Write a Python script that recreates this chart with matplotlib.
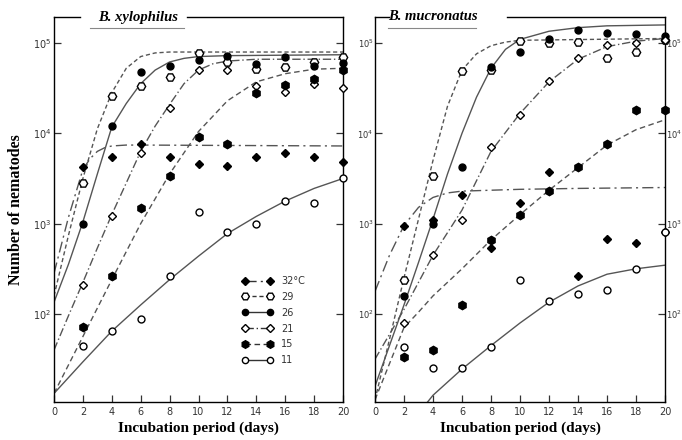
import numpy as np
import matplotlib
matplotlib.use("Agg")
import matplotlib.pyplot as plt
from matplotlib.lines import Line2D

# observation days
days = [2, 4, 6, 8, 10, 12, 14, 16, 18, 20]
temps = ["32°C", "29", "26", "21", "15", "11"]

# ---- B. xylophilus: observed numbers
xyl_32 = [4200, 5400, 7600, 5500, 4600, 4300, 5400, 6000, 5400, 4800]
xyl_29 = [2800, 26000, 33000, 42000, 78000, 62000, 52000, 54000, 62000, 70000]
xyl_26 = [1000, 12000, 48000, 56000, 65000, 72000, 59000, 70000, 56000, 60000]
xyl_21 = [210, 1200, 6000, 19000, 50000, 50000, 33000, 29000, 35000, 32000]
xyl_15 = [71, 260, 1500, 3400, 9100, 7600, 28000, 34000, 40000, 50000]
xyl_11 = [44, 64, 87, 260, 1350, 800, 1000, 1800, 1700, 3200]

# ---- B. xylophilus: fitted curves (log10 of number)
xyl_c32_x = [0, 1, 2, 2.5, 3, 3.5, 4, 5, 6, 20]
xyl_c32_y = [2.45, 3.07, 3.6, 3.72, 3.8, 3.84, 3.86, 3.87, 3.87, 3.86]
xyl_c29_x = [0, 1, 2, 3, 4, 5, 6, 7, 8, 10, 20]
xyl_c29_y = [2.2, 2.87, 3.5, 4.05, 4.45, 4.72, 4.85, 4.89, 4.9, 4.9, 4.9]
xyl_c26_x = [0, 1, 2, 3, 4, 5, 6, 7, 8, 9, 10, 12, 20]
xyl_c26_y = [2.13, 2.55, 3.02, 3.55, 4.07, 4.33, 4.55, 4.7, 4.79, 4.83, 4.85, 4.86, 4.87]
xyl_c21_x = [0, 1, 2, 3, 4, 5, 6, 7, 8, 9, 10, 11, 12, 14, 20]
xyl_c21_y = [1.6, 1.98, 2.35, 2.73, 3.1, 3.45, 3.8, 4.08, 4.32, 4.55, 4.7, 4.77, 4.8, 4.82, 4.82]
xyl_c15_x = [0, 2, 4, 6, 8, 10, 12, 14, 16, 18, 20]
xyl_c15_y = [1.12, 1.75, 2.38, 3.0, 3.55, 4.02, 4.36, 4.57, 4.66, 4.71, 4.72]
xyl_c11_x = [0, 2, 4, 6, 8, 10, 12, 14, 16, 18, 20]
xyl_c11_y = [1.12, 1.47, 1.81, 2.1, 2.38, 2.64, 2.89, 3.08, 3.25, 3.39, 3.5]

# ---- B. mucronatus: observed numbers
muc_32 = [950, 1100, 2100, 540, 1700, 3700, 260, 680, 610, 810]
muc_29 = [240, 3400, 49000, 50000, 106000, 100000, 103000, 68000, 80000, 108000]
muc_26 = [160, 1000, 4200, 54000, 80000, 110000, 140000, 130000, 126000, 120000]
muc_21 = [80, 450, 1100, 7100, 16000, 38000, 68000, 95000, 100000, 108000]
muc_15 = [33, 40, 125, 660, 1250, 2300, 4200, 7600, 18000, 18000]
muc_11 = [43, 25, 25, 43, 240, 140, 165, 185, 315, 800]

# ---- B. mucronatus: fitted curves (log10 of number)
muc_c32_x = [0, 1, 2, 3, 4, 5, 6, 8, 10, 14, 20]
muc_c32_y = [2.25, 2.65, 2.98, 3.18, 3.29, 3.34, 3.36, 3.37, 3.38, 3.39, 3.4]
muc_c29_x = [0, 1, 2, 3, 4, 5, 6, 7, 8, 9, 10, 20]
muc_c29_y = [1.05, 1.72, 2.4, 3.05, 3.7, 4.3, 4.7, 4.88, 4.97, 5.01, 5.03, 5.05]
muc_c26_x = [0, 1, 2, 3, 4, 5, 6, 7, 8, 9, 10, 12, 14, 16, 20]
muc_c26_y = [1.2, 1.65, 2.1, 2.57, 3.05, 3.55, 4.0, 4.4, 4.72, 4.93, 5.04, 5.13, 5.17, 5.19, 5.2]
muc_c21_x = [0, 2, 4, 6, 8, 10, 12, 14, 16, 18, 20]
muc_c21_y = [1.5, 2.05, 2.65, 3.15, 3.8, 4.22, 4.57, 4.82, 4.96, 5.02, 5.05]
muc_c15_x = [0, 1, 2, 3, 4, 6, 8, 10, 12, 14, 16, 18, 20]
muc_c15_y = [1.05, 1.45, 1.85, 2.02, 2.2, 2.5, 2.82, 3.1, 3.37, 3.62, 3.87, 4.04, 4.15]
muc_c11_x = [3.5, 4, 6, 8, 10, 12, 14, 16, 18, 20]
muc_c11_y = [1.0, 1.1, 1.39, 1.65, 1.9, 2.13, 2.31, 2.44, 2.5, 2.54]

markers = ["D", "H", "o", "D", "h", "o"]
filled = [True, False, True, False, True, False]
msizes = [4.3, 6, 5, 4.3, 6, 5]
styles = [(0, (8, 3, 1.5, 3)), (0, (3, 2)), "-", (0, (6, 2, 1, 2)), (0, (4, 2.5)), "-"]
lcol = "#555555"

fig = plt.figure(figsize=(6.82, 4.40), dpi=100)
ax1 = fig.add_axes([54/682, 38/440, 289/682, 385/440])
ax2 = fig.add_axes([375/682, 38/440, 290/682, 385/440])

# (axes, title, points, curves, left gap end, title x, right gap start, underline x0, x1)
panels = [
    (ax1, "B. xylophilus", [xyl_32, xyl_29, xyl_26, xyl_21, xyl_15, xyl_11],
     [(xyl_c32_x, xyl_c32_y), (xyl_c29_x, xyl_c29_y), (xyl_c26_x, xyl_c26_y),
      (xyl_c21_x, xyl_c21_y), (xyl_c15_x, xyl_c15_y), (xyl_c11_x, xyl_c11_y)],
     0.09, 0.29, 0.46, 0.125, 0.45),
    (ax2, "B. mucronatus", [muc_32, muc_29, muc_26, muc_21, muc_15, muc_11],
     [(muc_c32_x, muc_c32_y), (muc_c29_x, muc_c29_y), (muc_c26_x, muc_c26_y),
      (muc_c21_x, muc_c21_y), (muc_c15_x, muc_c15_y), (muc_c11_x, muc_c11_y)],
     0.05, 0.2, 0.455, 0.045, 0.35),
]

for ax, title, pts, curves, g0, tx, g1, u0, u1 in panels:
    ax.set_yscale("log")
    for i in range(6):
        cx, cy = curves[i]
        ax.plot(cx, np.power(10.0, cy), color=lcol, lw=1.0, linestyle=styles[i])
        ax.plot(days, pts[i], linestyle="none", marker=markers[i], ms=msizes[i],
                mfc="black" if filled[i] else "white", mec="black", mew=1.0,
                clip_on=False, zorder=3)
    ax.set_xlim(0, 20)
    ax.set_ylim(10.6, 1.94e5)
    ax.set_xticks(range(0, 21, 2))
    ax.set_yticks([1e2, 1e3, 1e4, 1e5])
    ax.yaxis.set_minor_locator(matplotlib.ticker.NullLocator())
    ax.tick_params(direction="in", length=5, width=0.9, labelsize=7, colors="#333333",
                   right=True, top=False)
    ax.tick_params(axis="y", pad=2)
    ax.spines["top"].set_visible(False)
    for s in ["left", "right", "bottom"]:
        ax.spines[s].set_linewidth(1.0)
    ax.plot([0, g0], [1, 1], color="black", lw=1.0, transform=ax.transAxes, clip_on=False)
    ax.plot([g1, 1], [1, 1], color="black", lw=1.0, transform=ax.transAxes, clip_on=False)
    ax.plot([u0, u1], [0.972, 0.972], color="#888888", lw=0.8, transform=ax.transAxes,
            clip_on=False)
    ax.text(tx, 1.0, title, transform=ax.transAxes, ha="center", va="center",
            fontsize=10.5, fontweight="bold", fontstyle="italic", family="Liberation Serif")
    ax.set_xlabel("Incubation period (days)", fontsize=11, fontweight="bold",
                  family="Liberation Serif", labelpad=3)

ax2.tick_params(labelright=True)
ax2.tick_params(axis="y", which="major", labelsize=6, pad=1)
ax1.set_ylabel("Number of nematodes", fontsize=11.5, fontweight="bold",
               family="Liberation Serif", labelpad=6)

handles = []
for i in range(6):
    handles.append(Line2D([], [], color="#333333", lw=1.0, linestyle=styles[i],
                          marker=markers[i], ms=msizes[i] - 0.5,
                          mfc="black" if filled[i] else "white", mec="black"))
leg = ax1.legend(handles, temps, loc="upper left", bbox_to_anchor=(0.62, 0.35),
                 frameon=False, fontsize=7, numpoints=2, handlelength=3.2,
                 labelspacing=0.6, handletextpad=0.8)
for t in leg.get_texts():
    t.set_color("#333333")

fig.savefig("out.png", dpi=100)
